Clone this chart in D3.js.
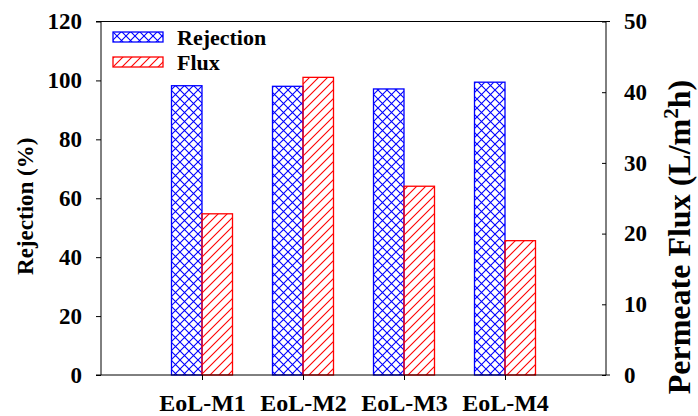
<!DOCTYPE html>
<html><head><meta charset="utf-8">
<script src="https://cdn.jsdelivr.net/npm/d3@7"></script>
<style>body{margin:0;background:#fff}svg{display:block}</style>
</head><body>
<svg id="c" width="698" height="416" font-family="Liberation Serif" font-weight="bold"></svg>
<script>
const categories = ["EoL-M1","EoL-M2","EoL-M3","EoL-M4"];
const rejection = [98.2, 98.0, 97.1, 99.4];
const flux = [22.8, 42.1, 26.7, 19.0];
const leftTicks = [0,20,40,60,80,100,120];
const rightTicks = [0,10,20,30,40,50];
const seriesNames = ["Rejection","Flux"];

const FONT = "Liberation Serif";
const svg = d3.select("#c");
const L=101, R=606, T=21.5, B=375;
const x = d3.scalePoint().domain(categories).range([L,R]).padding(1);
const yL = d3.scaleLinear().domain([0,120]).range([B,T]);
const yR = d3.scaleLinear().domain([0,50]).range([B,T]);
const bw = 30.5;
const xs = d3.scaleBand().domain(seriesNames).range([-bw, bw]);

const defs = svg.append("defs");
const pb = defs.append("pattern").attr("id","hatchB").attr("patternUnits","userSpaceOnUse").attr("width",9).attr("height",9);
pb.append("path").attr("d","M-1,-1L10,10M-1,10L10,-1").attr("stroke","#0000ff").attr("stroke-width",1.1).attr("fill","none");
const pr = defs.append("pattern").attr("id","hatchR").attr("patternUnits","userSpaceOnUse").attr("width",9).attr("height",9);
pr.append("path").attr("d","M-1,10L10,-1M-2,2L2,-2M7,11L11,7").attr("stroke","#ff0000").attr("stroke-width",1.1).attr("fill","none");

// bars
const g = svg.append("g");
categories.forEach((c,i)=>{
  g.append("rect").attr("x", x(c)+xs("Rejection")).attr("width", xs.bandwidth())
   .attr("y", yL(rejection[i])).attr("height", B-yL(rejection[i]))
   .attr("fill","url(#hatchB)").attr("stroke","#0000ff").attr("stroke-width",1.3);
  g.append("rect").attr("x", x(c)+xs("Flux")).attr("width", xs.bandwidth())
   .attr("y", yR(flux[i])).attr("height", B-yR(flux[i]))
   .attr("fill","url(#hatchR)").attr("stroke","#ff0000").attr("stroke-width",1.3);
});

// frame lines
svg.append("line").attr("x1",96).attr("x2",610).attr("y1",T).attr("y2",T).attr("stroke","#000").attr("stroke-width",1);
svg.append("line").attr("x1",96).attr("x2",610).attr("y1",B).attr("y2",B).attr("stroke","#000").attr("stroke-width",1);

// axes
const ax = svg.append("g").attr("transform",`translate(${L},0)`)
  .call(d3.axisLeft(yL).tickValues(leftTicks).tickSize(5).tickPadding(14));
const ar = svg.append("g").attr("transform",`translate(${R},0)`)
  .call(d3.axisRight(yR).tickValues(rightTicks).tickSize(-4).tickPadding(18));
const ab = svg.append("g").attr("transform",`translate(0,${B})`)
  .call(d3.axisBottom(x).tickSize(5).tickPadding(14));
[ax,ar,ab].forEach(a=>{
  a.attr("font-family",FONT).attr("font-weight","bold").attr("font-size",23);
  a.select(".domain").remove();
  a.selectAll(".tick line").attr("stroke","#000");
  a.selectAll("text").attr("fill","#000");
});
ab.attr("font-size",24);
svg.append("line").attr("x1",L).attr("x2",L).attr("y1",T).attr("y2",B).attr("stroke","#000");
svg.append("line").attr("x1",R).attr("x2",R).attr("y1",T).attr("y2",B).attr("stroke","#000");

// axis titles
svg.append("text").attr("font-family",FONT).attr("font-weight","bold").attr("font-size",23)
  .attr("transform",`translate(33,${(T+B)/2+8}) rotate(-90)`).attr("text-anchor","middle")
  .text("Rejection (%)");
const rt = svg.append("text").attr("font-family",FONT).attr("font-weight","bold").attr("font-size",30)
  .attr("transform",`translate(690,237) rotate(-90)`).attr("text-anchor","middle");
rt.append("tspan").text("Permeate Flux (L/m");
rt.append("tspan").attr("dy",-11).attr("font-size",20).text("2");
rt.append("tspan").attr("dy",11).text("h)");
// fit the title length to the reference span (~330px)
try {
  const len = rt.node().getComputedTextLength();
  if (len > 0) {
    const fs = Math.min(32, 30 * 330 / len);
    rt.attr("font-size", fs);
    rt.selectAll("tspan").filter((d,i)=>i===1).attr("font-size", fs*0.66).attr("dy", -fs*0.37);
    rt.selectAll("tspan").filter((d,i)=>i===2).attr("dy", fs*0.37);
  }
} catch(e) {}

// legend
const leg = svg.append("g");
seriesNames.forEach((s,i)=>{
  leg.append("rect").attr("x",113).attr("y",32+i*25).attr("width",50).attr("height",10)
    .attr("fill", i===0?"url(#hatchB)":"url(#hatchR)").attr("stroke", i===0?"#0000ff":"#ff0000").attr("stroke-width",1.3);
  leg.append("text").attr("font-family",FONT).attr("font-weight","bold").attr("font-size",22)
    .attr("x",177).attr("y",45+i*25).text(s);
});
</script>
</body></html>
